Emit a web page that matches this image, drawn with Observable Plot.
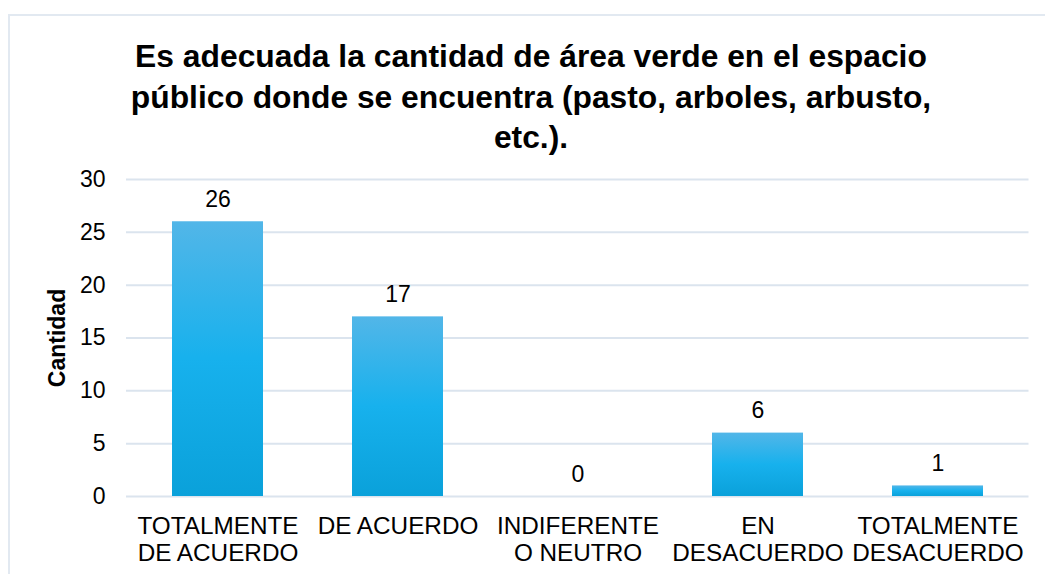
<!DOCTYPE html>
<html>
<head>
<meta charset="utf-8">
<script src="https://cdn.jsdelivr.net/npm/d3@7"></script>
<script src="https://cdn.jsdelivr.net/npm/@observablehq/plot@0.6"></script>
<style>
  html, body { margin: 0; padding: 0; background: #fff; overflow: hidden; }
  #wrap { position: relative; width: 1045px; height: 574px; overflow: hidden; }
  #frame { position: absolute; left: 8px; top: 14px; width: 1100px; height: 600px;
           border-top: 2px solid #e2e9f1; border-left: 2px solid #e2e9f1; box-sizing: border-box; }
  #title { position: absolute; left: 0; top: 36px; width: 1062px; text-align: center;
           font-family: "Liberation Sans", Arial, sans-serif; font-weight: bold; font-size: 31.8px;
           line-height: 40.5px; color: #000; }
  #chart { position: absolute; left: 0; top: 0; }
</style>
</head>
<body>
<div id="wrap">
  <div id="frame"></div>
  <div id="title">Es adecuada la cantidad de área verde en el espacio<br>público donde se encuentra (pasto, arboles, arbusto,<br>etc.).</div>
  <div id="chart"></div>
</div>
<script>
const categories = ["TOTALMENTE DE ACUERDO", "DE ACUERDO", "INDIFERENTE O NEUTRO", "EN DESACUERDO", "TOTALMENTE DESACUERDO"];
const categoryLabels = ["TOTALMENTE\nDE ACUERDO", "DE ACUERDO", "INDIFERENTE\nO NEUTRO", "EN\nDESACUERDO", "TOTALMENTE\nDESACUERDO"];
const values = [26, 17, 0, 6, 1];
const yTicks = [0, 5, 10, 15, 20, 25, 30];

const data = categories.map((c, i) => ({cat: c, label: categoryLabels[i], value: values[i]}));
const labelOf = new Map(data.map(d => [d.cat, d.label]));

const font = "'Liberation Sans', Arial, sans-serif";

const chart = Plot.plot({
  width: 1045,
  height: 574,
  marginLeft: 126,
  marginRight: 16.5,
  marginTop: 179,
  marginBottom: 78,
  style: {fontFamily: font, fontSize: "23px", color: "#000", background: "transparent", overflow: "visible"},
  x: {domain: categories, paddingInner: 0.494, paddingOuter: 0.245, label: null},
  y: {domain: [0, 30], ticks: yTicks, label: null},
  marks: [
    Plot.ruleY(yTicks, {stroke: "#dbe4ee", strokeWidth: 2}),
    Plot.barY(data, {x: "cat", y: "value", fill: "url(#barGrad)"}),
    Plot.text(data, {x: "cat", y: "value", text: d => String(d.value), lineAnchor: "bottom", dy: -15, fontSize: 23, fill: "#000"}),
    Plot.axisY({ticks: yTicks, tickSize: 0, tickPadding: 21, fontSize: 23, label: null}),
    Plot.axisX({tickSize: 0, tickPadding: 18, fontSize: 24.3, lineHeight: 1.12, tickFormat: d => labelOf.get(d), label: null}),
    Plot.text(["Cantidad"], {frameAnchor: "left", textAnchor: "middle", dx: -69, rotate: -90, fontWeight: "bold", fontSize: 23, fill: "#000"})
  ]
});

const svg = d3.select(chart);
const defs = svg.insert("defs", ":first-child");
const g = defs.append("linearGradient").attr("id", "barGrad").attr("x1", 0).attr("y1", 0).attr("x2", 0).attr("y2", 1);
g.append("stop").attr("offset", "0%").attr("stop-color", "#52b6e8");
g.append("stop").attr("offset", "50%").attr("stop-color", "#17b1ed");
g.append("stop").attr("offset", "100%").attr("stop-color", "#0aa1da");

document.getElementById("chart").appendChild(chart);
</script>
</body>
</html>
